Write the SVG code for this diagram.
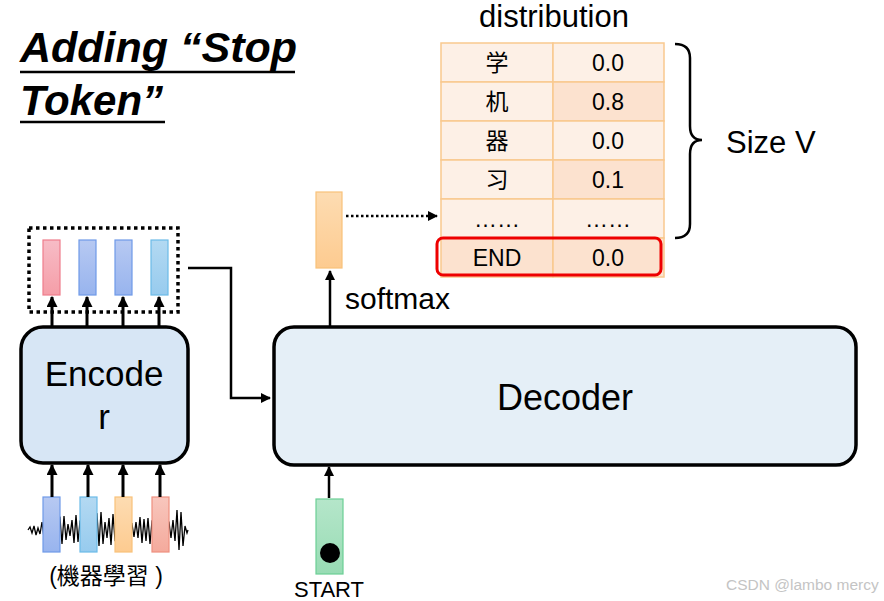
<svg xmlns="http://www.w3.org/2000/svg" width="884" height="601" viewBox="0 0 884 601">
<defs>
<style>
.t{font-family:"Liberation Sans",Arial,sans-serif;fill:#000}
.cjk{font-family:"Liberation Sans","Noto Sans CJK SC",sans-serif;fill:#000}
.ln{stroke:#000;stroke-width:3;fill:none}
.cell1{fill:#fdf0e6;stroke:#f9c98f;stroke-width:1.5}
.cell2{fill:#fce2cf;stroke:#f9c98f;stroke-width:1.5}
.ct{font-family:"Liberation Sans","Noto Sans CJK SC",sans-serif;font-size:23px;text-anchor:middle;fill:#000}
</style>
<marker id="ah" viewBox="0 0 10 10" refX="9" refY="5" markerUnits="userSpaceOnUse" markerWidth="11" markerHeight="11" orient="auto"><path d="M0,0 L10,5 L0,10 z" fill="#000"/></marker>
<marker id="ahs" viewBox="0 0 10 10" refX="9" refY="5" markerUnits="userSpaceOnUse" markerWidth="10" markerHeight="10" orient="auto"><path d="M0,0 L10,5 L0,10 z" fill="#000"/></marker>
<linearGradient id="gPink" x1="0" y1="0" x2="0" y2="1"><stop offset="0" stop-color="#f7bcc6"/><stop offset="1" stop-color="#f59ea8"/></linearGradient>
<linearGradient id="gBlue" x1="0" y1="0" x2="0" y2="1"><stop offset="0" stop-color="#b7c9f2"/><stop offset="1" stop-color="#98b4ee"/></linearGradient>
<linearGradient id="gLBlue" x1="0" y1="0" x2="0" y2="1"><stop offset="0" stop-color="#b3d9f2"/><stop offset="1" stop-color="#97cbee"/></linearGradient>
<linearGradient id="gOrange" x1="0" y1="0" x2="0" y2="1"><stop offset="0" stop-color="#fddcb2"/><stop offset="1" stop-color="#fdcb90"/></linearGradient>
<linearGradient id="gSalmon" x1="0" y1="0" x2="0" y2="1"><stop offset="0" stop-color="#f8c6bd"/><stop offset="1" stop-color="#f4aa9c"/></linearGradient>
<linearGradient id="gGreen" x1="0" y1="0" x2="0" y2="1"><stop offset="0" stop-color="#b5e6ca"/><stop offset="1" stop-color="#98dcb4"/></linearGradient>
</defs>
<rect width="884" height="601" fill="#fff"/>

<g id="title">
<text class="t" x="20" y="62" font-size="43" font-weight="bold" font-style="italic">Adding “Stop</text>
<line x1="20" y1="72" x2="295" y2="72" stroke="#000" stroke-width="2.5"/>
<text class="t" x="20" y="115" font-size="42" font-weight="bold" font-style="italic">Token”</text>
<line x1="20" y1="122" x2="165" y2="122" stroke="#000" stroke-width="2.5"/>
</g>

<g id="encoder-output">
<rect x="29" y="228" width="149" height="84" fill="none" stroke="#000" stroke-width="3.5" stroke-dasharray="3.5 3.5"/>
<rect x="43" y="240" width="17" height="55" fill="url(#gPink)" stroke="#ee7d8c" stroke-width="1.2"/>
<rect x="79" y="240" width="17" height="55" fill="url(#gBlue)" stroke="#6f9ae8" stroke-width="1.2"/>
<rect x="115" y="240" width="17" height="55" fill="url(#gBlue)" stroke="#6f9ae8" stroke-width="1.2"/>
<rect x="151" y="240" width="17" height="55" fill="url(#gLBlue)" stroke="#6cbbe8" stroke-width="1.2"/>
</g>

<g id="encoder">
<rect x="21" y="327" width="167" height="136" rx="22" fill="#d7e6f5" stroke="#000" stroke-width="3.5"/>
<text class="t" x="104" y="386" font-size="35" text-anchor="middle">Encode</text>
<text class="t" x="104" y="429" font-size="35" text-anchor="middle">r</text>
</g>

<g id="input">
<path d="M28,530 L30,527 L32,533 L34,526 L36,535 L38,528 L40,534 L42,522 L44,538 L60,518 L62,544 L64,516 L66,540 L68,524 L70,536 L72,520 L74,543 L76,515 L78,542 L80,521 L97,514 L99,546 L101,512 L103,544 L105,522 L107,538 L109,518 L111,545 L113,514 L115,540 L132,524 L134,537 L136,522 L138,538 L140,517 L142,543 L144,519 L146,541 L148,518 L150,544 L152,521 L169,522 L171,538 L173,520 L175,541 L177,510 L179,550 L181,512 L183,546 L185,526 L187,533 L188,530" fill="none" stroke="#000" stroke-width="1.3"/>
<rect x="43" y="497" width="17" height="55" fill="url(#gBlue)" stroke="#6f9ae8" stroke-width="1.2"/>
<rect x="80" y="497" width="17" height="55" fill="url(#gLBlue)" stroke="#6cbbe8" stroke-width="1.2"/>
<rect x="115" y="497" width="17" height="55" fill="url(#gOrange)" stroke="#f9c27a" stroke-width="1.2"/>
<rect x="152" y="497" width="17" height="55" fill="url(#gSalmon)" stroke="#ef8f7f" stroke-width="1.2"/>
<text class="cjk" x="106" y="584" font-size="23" text-anchor="middle">(機器學習 )</text>
</g>

<g id="decoder">
<rect x="274" y="327" width="582" height="138" rx="20" fill="#e5eff7" stroke="#000" stroke-width="3.5"/>
<text class="t" x="565" y="410" font-size="36" text-anchor="middle">Decoder</text>
</g>

<g id="softmax-output">
<rect x="316" y="192" width="26" height="76" fill="url(#gOrange)" stroke="#f9c27a" stroke-width="1.2"/>
<text class="t" x="345" y="309" font-size="30">softmax</text>
</g>

<g id="start">
<rect x="316" y="499" width="27" height="75" fill="url(#gGreen)" stroke="#6ccf95" stroke-width="1.2"/>
<circle cx="330" cy="553" r="10" fill="#000"/>
<text class="t" x="329" y="597" font-size="22" text-anchor="middle">START</text>
</g>

<g id="distribution">
<text class="t" x="554" y="27" font-size="31" text-anchor="middle">distribution</text>
<rect class="cell1" x="441" y="43" width="112" height="39"/><rect class="cell1" x="553" y="43" width="111" height="39"/>
<rect class="cell1" x="441" y="82" width="112" height="39"/><rect class="cell2" x="553" y="82" width="111" height="39"/>
<rect class="cell1" x="441" y="121" width="112" height="39"/><rect class="cell1" x="553" y="121" width="111" height="39"/>
<rect class="cell1" x="441" y="160" width="112" height="39"/><rect class="cell2" x="553" y="160" width="111" height="39"/>
<rect class="cell1" x="441" y="199" width="112" height="39"/><rect class="cell1" x="553" y="199" width="111" height="39"/>
<rect class="cell2" x="441" y="238" width="112" height="39"/><rect class="cell2" x="553" y="238" width="111" height="39"/>
<text class="ct" x="497" y="71">学</text><text class="ct" x="608" y="71">0.0</text>
<text class="ct" x="497" y="110">机</text><text class="ct" x="608" y="110">0.8</text>
<text class="ct" x="497" y="149">器</text><text class="ct" x="608" y="149">0.0</text>
<text class="ct" x="497" y="188">习</text><text class="ct" x="608" y="188">0.1</text>
<text class="ct" x="497" y="227">……</text><text class="ct" x="608" y="227">……</text>
<text class="ct" x="497" y="266">END</text><text class="ct" x="608" y="266">0.0</text>
<rect x="437" y="238" width="224" height="37" rx="6" fill="none" stroke="#ee0000" stroke-width="3"/>
</g>

<g id="size-v">
<path d="M675,44 Q690,44 690,58 L690,126 Q690,140 702,140 Q690,140 690,154 L690,224 Q690,238 675,238" fill="none" stroke="#000" stroke-width="2.5"/>
<text class="t" x="726" y="153" font-size="31">Size V</text>
</g>

<g id="connectors">
<line class="ln" x1="52" y1="326" x2="52" y2="297" marker-end="url(#ah)"/>
<line class="ln" x1="87" y1="326" x2="87" y2="297" marker-end="url(#ah)"/>
<line class="ln" x1="123" y1="326" x2="123" y2="297" marker-end="url(#ah)"/>
<line class="ln" x1="159" y1="326" x2="159" y2="297" marker-end="url(#ah)"/>
<line class="ln" x1="52" y1="497" x2="52" y2="465" marker-end="url(#ah)"/>
<line class="ln" x1="88" y1="497" x2="88" y2="465" marker-end="url(#ah)"/>
<line class="ln" x1="123" y1="497" x2="123" y2="465" marker-end="url(#ah)"/>
<line class="ln" x1="160" y1="497" x2="160" y2="465" marker-end="url(#ah)"/>
<path d="M188,268 L231,268 L231,398 L270,398" fill="none" stroke="#000" stroke-width="2.5" marker-end="url(#ahs)"/>
<line x1="330" y1="326" x2="330" y2="271" stroke="#000" stroke-width="2.5" marker-end="url(#ahs)"/>
<line x1="329" y1="498" x2="329" y2="467" stroke="#000" stroke-width="2.5" marker-end="url(#ahs)"/>
<line x1="346" y1="216" x2="437" y2="216" stroke="#000" stroke-width="2.5" stroke-dasharray="2.5 2.5" marker-end="url(#ahs)"/>
</g>

<text x="726" y="590" font-family="Liberation Sans,Arial,sans-serif" font-size="15.5" fill="#c4c4c4">CSDN @lambo mercy</text>
</svg>
